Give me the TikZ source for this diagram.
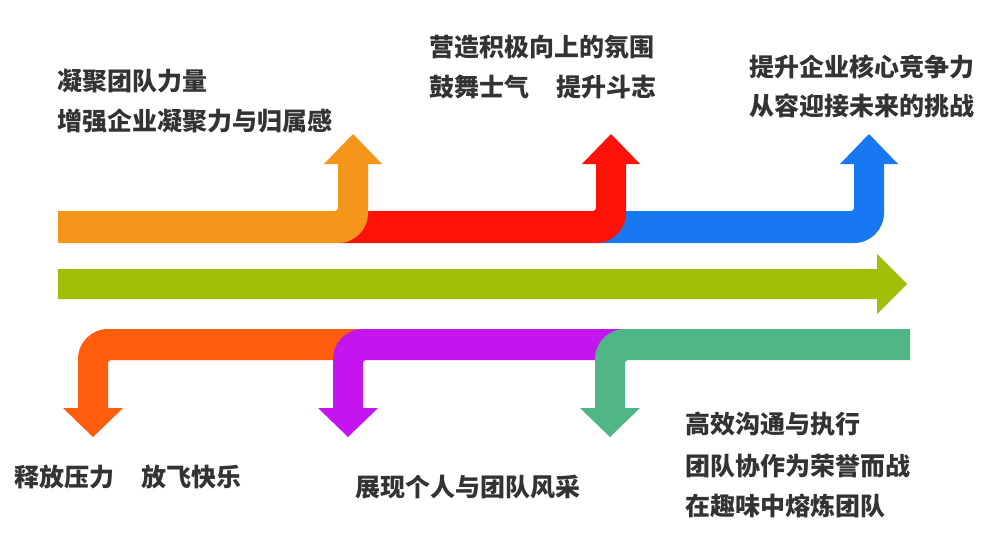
\documentclass[tikz,border=0pt]{standalone}
\usepackage{fontspec}
\newfontfamily\cjk{Noto Sans CJK SC}
\definecolor{cOrange}{HTML}{F4961A}
\definecolor{cRed}{HTML}{FE1109}
\definecolor{cBlue}{HTML}{1778F2}
\definecolor{cGreen}{HTML}{A1BD05}
\definecolor{cOrRed}{HTML}{FE5D0B}
\definecolor{cPurple}{HTML}{C515EF}
\definecolor{cTeal}{HTML}{51B686}
\definecolor{cText}{HTML}{333333}
\newcommand\UpArr[3]{%
  \fill[#1] (#2,211) -- ({#3-3},211) arc[start angle=90,end angle=0,radius=3]
    -- (#3,164) -- ({#3-14},164) -- ({#3+15},134) -- ({#3+44},164) -- ({#3+30},164)
    -- ({#3+30},213) arc[start angle=0,end angle=90,radius=30] -- (#2,243) -- cycle;}
\newcommand\DnArr[3]{%
  \fill[#1] (#3,329) -- ({#2+30},329) arc[start angle=270,end angle=180,radius=30]
    -- (#2,408) -- ({#2-15},408) -- ({#2+15},437) -- ({#2+45},408) -- ({#2+30},408)
    -- ({#2+30},363) arc[start angle=180,end angle=270,radius=3] -- (#3,360) -- cycle;}
\tikzset{lbl/.style={anchor=base west,inner sep=0pt,text=cText,font=\cjk\bfseries\fontsize{25}{30}\selectfont}}
\begin{document}
\begin{tikzpicture}[x=1pt,y=-1pt]
\useasboundingbox (0,0) rectangle (986,555);
% top bent arrows
\UpArr{cBlue}{596}{854}
\UpArr{cRed}{338}{596}
\UpArr{cOrange}{58}{338}
% middle arrow
\fill[cGreen] (58,269) -- (877,269) -- (877,254) -- (907,284) -- (877,314) -- (877,299) -- (58,299) -- cycle;
% bottom bent arrows
\DnArr{cOrRed}{78}{365}
\DnArr{cPurple}{333}{626}
\DnArr{cTeal}{595}{910}
% labels
\node[lbl] (t1a) at (57,90) {凝聚团队力量};
\node[lbl] (t1b) at (57,130) {增强企业凝聚力与归属感};
\node[lbl] (t2a) at (429,56) {营造积极向上的氛围};
\node[lbl] (t2b) at (429,96) {鼓舞士气\hspace{1.1em}提升斗志};
\node[lbl] (t3a) at (749,76) {提升企业核心竞争力};
\node[lbl] (t3b) at (749,115) {从容迎接未来的挑战};
\node[lbl] (b1) at (14,486) {释放压力\hspace{1.1em}放飞快乐};
\node[lbl] (b2) at (355,496) {展现个人与团队风采};
\node[lbl] (b3a) at (685,433) {高效沟通与执行};
\node[lbl] (b3b) at (685,475) {团队协作为荣誉而战};
\node[lbl] (b3c) at (685,515) {在趣味中熔炼团队};
\end{tikzpicture}
\end{document}
